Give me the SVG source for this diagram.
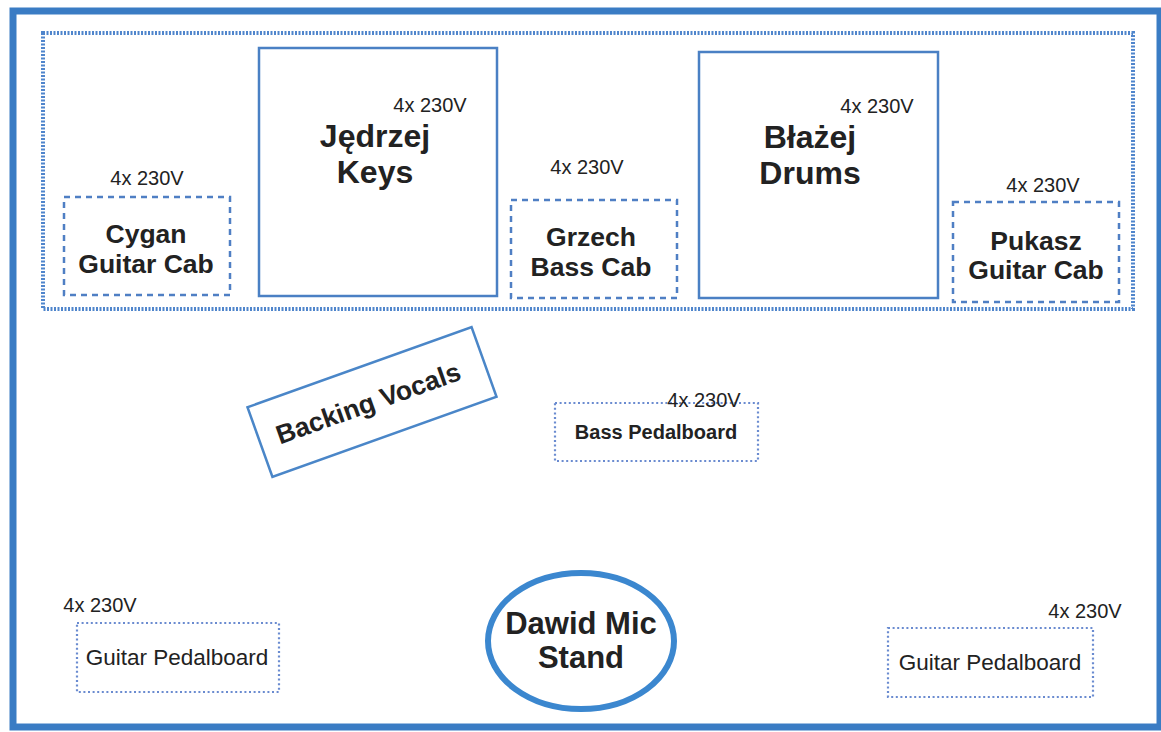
<svg xmlns="http://www.w3.org/2000/svg" width="1161" height="732" viewBox="0 0 1161 732">
<style>
.t{font-family:"Liberation Sans",Arial,sans-serif;fill:#222;text-anchor:middle}
.b{font-weight:bold}
.pw{font-size:20px}
.big{font-size:32px;font-weight:bold}
.cab{font-size:26.5px;font-weight:bold}
.solid{fill:none;stroke:#4a80c4;stroke-width:2.5}
.dash{fill:none;stroke:#4f7fc4;stroke-width:2.5;stroke-dasharray:6 5}
.dot{fill:none;stroke:#6a8bd0;stroke-width:2.2;stroke-dasharray:2 2.6}
</style>
<rect width="1161" height="732" fill="#fff"/>
<rect id="frame" x="13" y="11" width="1147" height="716" fill="none" stroke="#3a7cc4" stroke-width="7"/>
<g id="backline"><rect x="43" y="33" width="1090" height="276" fill="none" stroke="#4f85cc" stroke-width="4" stroke-dasharray="2 1.5"/></g>
<g id="cygan">
<rect class="dash" x="64" y="197" width="166" height="98"/>
<text class="t pw" x="147" y="185">4x 230V</text>
<text class="t cab" x="146" y="243">Cygan</text>
<text class="t cab" x="146" y="273">Guitar Cab</text>
</g>
<g id="jedrzej">
<rect class="solid" x="259" y="48" width="238" height="248"/>
<text class="t pw" x="430" y="112">4x 230V</text>
<text class="t big" x="375" y="147">Jędrzej</text>
<text class="t big" x="375" y="183">Keys</text>
</g>
<g id="grzech">
<rect class="dash" x="511" y="200" width="166" height="98"/>
<text class="t pw" x="587" y="174">4x 230V</text>
<text class="t cab" x="591" y="246">Grzech</text>
<text class="t cab" x="591" y="276">Bass Cab</text>
</g>
<g id="blazej">
<rect class="solid" x="699" y="52" width="239" height="246"/>
<text class="t pw" x="877" y="113">4x 230V</text>
<text class="t big" x="810" y="148">Błażej</text>
<text class="t big" x="810" y="184">Drums</text>
</g>
<g id="pukasz">
<rect class="dash" x="953" y="202" width="166" height="100"/>
<text class="t pw" x="1043" y="192">4x 230V</text>
<text class="t cab" x="1036" y="250">Pukasz</text>
<text class="t cab" x="1036" y="279">Guitar Cab</text>
</g>
<g id="backing" transform="translate(372 402) rotate(-19.7)">
<rect x="-119" y="-37" width="238" height="74" fill="none" stroke="#4a86c8" stroke-width="2.5"/>
<text class="t b" x="-4" y="9" font-size="26.5">Backing Vocals</text>
</g>
<g id="basspedal">
<rect class="dot" x="555" y="403" width="203" height="58" stroke="#7a8bd6"/>
<text class="t pw" x="704" y="407">4x 230V</text>
<text class="t b" x="656" y="439" font-size="20">Bass Pedalboard</text>
</g>
<g id="leftpedal">
<rect class="dot" x="77" y="623" width="202" height="69"/>
<text class="t pw" x="100" y="612">4x 230V</text>
<text class="t" x="177" y="665" font-size="22.5">Guitar Pedalboard</text>
</g>
<g id="dawid">
<ellipse cx="581" cy="641" rx="93" ry="68" fill="none" stroke="#3b87cf" stroke-width="6"/>
<text class="t b" x="581" y="634" font-size="31">Dawid Mic</text>
<text class="t b" x="581" y="668" font-size="31">Stand</text>
</g>
<g id="rightpedal">
<rect class="dot" x="888" y="628" width="205" height="69"/>
<text class="t pw" x="1085" y="618">4x 230V</text>
<text class="t" x="990" y="670" font-size="22.5">Guitar Pedalboard</text>
</g>
<g id="connectors"></g>
</svg>
